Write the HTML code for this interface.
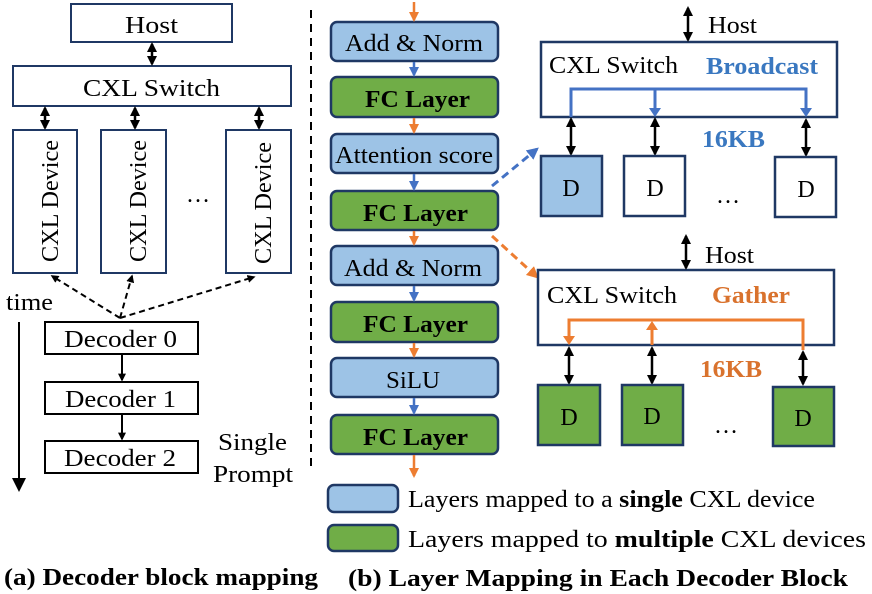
<!DOCTYPE html>
<html><head><meta charset="utf-8"><style>body{margin:0;background:#fff}svg{display:block}text{font-family:"Liberation Serif",serif;fill:#000}</style></head><body>
<svg width="872" height="594" viewBox="0 0 872 594" xmlns="http://www.w3.org/2000/svg">
<defs>
<marker id="k" viewBox="0 0 10 10" refX="8" refY="5" markerWidth="4" markerHeight="4" orient="auto-start-reverse"><path d="M0,0L10,5L0,10z" fill="#000"/></marker>
<marker id="o" viewBox="0 0 10 10" refX="8" refY="5" markerWidth="4" markerHeight="4" orient="auto-start-reverse"><path d="M0,0L10,5L0,10z" fill="#ed7d31"/></marker>
<marker id="b" viewBox="0 0 10 10" refX="8" refY="5" markerWidth="4" markerHeight="4" orient="auto-start-reverse"><path d="M0,0L10,5L0,10z" fill="#4472c4"/></marker>
</defs>
<g fill="#fff" stroke="#1f3864" stroke-width="2">
<rect x="71" y="4" width="161" height="38"/>
<rect x="13" y="66" width="278" height="40"/>
<rect x="13" y="130" width="64" height="143"/>
<rect x="101" y="130" width="65" height="143"/>
<rect x="226" y="130" width="65" height="143"/>
</g>
<g fill="#fff" stroke="#000" stroke-width="2">
<rect x="45" y="322" width="153" height="32"/>
<rect x="45" y="382" width="153" height="32"/>
<rect x="45" y="441" width="153" height="32"/>
</g>
<g font-size="24">
<text x="125" y="33" textLength="53" lengthAdjust="spacingAndGlyphs">Host</text>
<text x="83" y="96" textLength="137" lengthAdjust="spacingAndGlyphs">CXL Switch</text>
<text transform="translate(58,262) rotate(-90)" textLength="122" lengthAdjust="spacingAndGlyphs">CXL Device</text>
<text transform="translate(146,262) rotate(-90)" textLength="122" lengthAdjust="spacingAndGlyphs">CXL Device</text>
<text transform="translate(271,264) rotate(-90)" textLength="122" lengthAdjust="spacingAndGlyphs">CXL Device</text>
<text x="186" y="202">…</text>
<text x="6" y="310" textLength="47" lengthAdjust="spacingAndGlyphs">time</text>
<text x="64" y="347" textLength="113" lengthAdjust="spacingAndGlyphs">Decoder 0</text>
<text x="65" y="407" textLength="111" lengthAdjust="spacingAndGlyphs">Decoder 1</text>
<text x="64" y="466" textLength="112" lengthAdjust="spacingAndGlyphs">Decoder 2</text>
<text x="218" y="450" textLength="69" lengthAdjust="spacingAndGlyphs">Single</text>
<text x="213" y="482" textLength="80" lengthAdjust="spacingAndGlyphs">Prompt</text>
</g>
<g stroke="#000" stroke-width="2.5" marker-start="url(#k)" marker-end="url(#k)">
<line x1="152" y1="44" x2="152" y2="64"/>
<line x1="45" y1="108" x2="45" y2="128"/>
<line x1="135" y1="108" x2="135" y2="128"/>
<line x1="259" y1="108" x2="259" y2="128"/>
</g>
<g stroke="#000" stroke-width="2" stroke-dasharray="6,4" marker-end="url(#k)">
<line x1="120" y1="318" x2="52" y2="276"/>
<line x1="120" y1="318" x2="132" y2="276"/>
<line x1="120" y1="318" x2="254" y2="277"/>
</g>
<line x1="19" y1="322" x2="19" y2="480" stroke="#000" stroke-width="2"/>
<path d="M12,478L26,478L19,492z" fill="#000"/>
<g stroke="#000" stroke-width="2" marker-end="url(#k)">
<line x1="122" y1="355" x2="122" y2="380"/>
<line x1="122" y1="415" x2="122" y2="439"/>
</g>
<text x="4" y="585" font-size="24" font-weight="bold" textLength="314" lengthAdjust="spacingAndGlyphs">(a) Decoder block mapping</text>
<line x1="311" y1="10" x2="311" y2="470" stroke="#000" stroke-width="2" stroke-dasharray="8,6"/>

<g stroke="#1f3864" stroke-width="2.5">
<rect x="331" y="22" width="167" height="39" rx="6" fill="#9dc3e6"/>
<rect x="331" y="77" width="167" height="40" rx="6" fill="#70ad47"/>
<rect x="331" y="134" width="167" height="39" rx="6" fill="#9dc3e6"/>
<rect x="331" y="191" width="167" height="39" rx="6" fill="#70ad47"/>
<rect x="331" y="246" width="167" height="39" rx="6" fill="#9dc3e6"/>
<rect x="331" y="302" width="167" height="40" rx="6" fill="#70ad47"/>
<rect x="331" y="358" width="167" height="39" rx="6" fill="#9dc3e6"/>
<rect x="331" y="415" width="167" height="39" rx="6" fill="#70ad47"/>
<rect x="328" y="485" width="70" height="27" rx="6" fill="#9dc3e6"/>
<rect x="328" y="525" width="70" height="26" rx="6" fill="#70ad47"/>
</g>
<g font-size="24">
<text x="345" y="51" textLength="138" lengthAdjust="spacingAndGlyphs">Add &amp; Norm</text>
<text x="365" y="107" font-weight="bold" textLength="105" lengthAdjust="spacingAndGlyphs">FC Layer</text>
<text x="335" y="163" textLength="158" lengthAdjust="spacingAndGlyphs">Attention score</text>
<text x="363" y="221" font-weight="bold" textLength="105" lengthAdjust="spacingAndGlyphs">FC Layer</text>
<text x="344" y="276" textLength="138" lengthAdjust="spacingAndGlyphs">Add &amp; Norm</text>
<text x="363" y="332" font-weight="bold" textLength="105" lengthAdjust="spacingAndGlyphs">FC Layer</text>
<text x="386" y="388" textLength="54" lengthAdjust="spacingAndGlyphs">SiLU</text>
<text x="363" y="445" font-weight="bold" textLength="105" lengthAdjust="spacingAndGlyphs">FC Layer</text>
<text x="408" y="507" textLength="407" lengthAdjust="spacingAndGlyphs">Layers mapped to a <tspan font-weight="bold">single</tspan> CXL device</text>
<text x="408" y="547" textLength="458" lengthAdjust="spacingAndGlyphs">Layers mapped to <tspan font-weight="bold">multiple</tspan> CXL devices</text>
<text x="348" y="586" font-weight="bold" textLength="500" lengthAdjust="spacingAndGlyphs">(b) Layer Mapping in Each Decoder Block</text>
</g>
<g stroke-width="2.5">
<line x1="414" y1="2" x2="414" y2="20" stroke="#ed7d31" marker-end="url(#o)"/>
<line x1="414" y1="62" x2="414" y2="75" stroke="#4472c4" marker-end="url(#b)"/>
<line x1="414" y1="118" x2="414" y2="132" stroke="#ed7d31" marker-end="url(#o)"/>
<line x1="414" y1="174" x2="414" y2="189" stroke="#4472c4" marker-end="url(#b)"/>
<line x1="414" y1="231" x2="414" y2="244" stroke="#ed7d31" marker-end="url(#o)"/>
<line x1="414" y1="286" x2="414" y2="300" stroke="#4472c4" marker-end="url(#b)"/>
<line x1="414" y1="343" x2="414" y2="356" stroke="#ed7d31" marker-end="url(#o)"/>
<line x1="414" y1="398" x2="414" y2="413" stroke="#4472c4" marker-end="url(#b)"/>
<line x1="414" y1="455" x2="414" y2="476" stroke="#ed7d31" marker-end="url(#o)"/>
</g>

<line x1="492" y1="186" x2="537" y2="149" stroke="#4472c4" stroke-width="3" stroke-dasharray="8,5" marker-end="url(#b)"/>
<line x1="492" y1="236" x2="537" y2="277" stroke="#ed7d31" stroke-width="3" stroke-dasharray="8,5" marker-end="url(#o)"/>

<rect x="541" y="42" width="296" height="75" fill="#fff" stroke="#1f3864" stroke-width="2.5"/>
<path d="M571,117V89H806V110M655,89V110" fill="none" stroke="#4472c4" stroke-width="3"/>
<path d="M649,108L661,108L655,117zM800,108L812,108L806,117z" fill="#4472c4"/>
<g stroke="#000" stroke-width="2.5" marker-start="url(#k)" marker-end="url(#k)">
<line x1="688" y1="8" x2="688" y2="40"/>
<line x1="571" y1="119" x2="571" y2="154"/>
<line x1="655" y1="119" x2="655" y2="154"/>
<line x1="806" y1="120" x2="806" y2="155"/>
</g>
<g stroke="#1f3864" stroke-width="2.5">
<rect x="541" y="156" width="61" height="60" fill="#9dc3e6"/>
<rect x="624" y="156" width="61" height="60" fill="#fff"/>
<rect x="775" y="157" width="61" height="60" fill="#fff"/>
</g>

<rect x="538" y="270" width="296" height="75" fill="#fff" stroke="#1f3864" stroke-width="2.5"/>
<path d="M569,338V320H803V350M652,345V328" fill="none" stroke="#ed7d31" stroke-width="3"/>
<path d="M563,336L575,336L569,345zM646,330L658,330L652,321z" fill="#ed7d31"/>
<g stroke="#000" stroke-width="2.5" marker-start="url(#k)" marker-end="url(#k)">
<line x1="686" y1="236" x2="686" y2="268"/>
<line x1="569" y1="348" x2="569" y2="383"/>
<line x1="652" y1="348" x2="652" y2="383"/>
<line x1="803" y1="352" x2="803" y2="384"/>
</g>
<g stroke="#1f3864" stroke-width="2.5" fill="#70ad47">
<rect x="538" y="385" width="62" height="60"/>
<rect x="622" y="385" width="61" height="60"/>
<rect x="773" y="387" width="61" height="59"/>
</g>

<g font-size="24">
<text x="708" y="33" textLength="49" lengthAdjust="spacingAndGlyphs">Host</text>
<text x="549" y="73" textLength="129" lengthAdjust="spacingAndGlyphs">CXL Switch</text>
<text x="706" y="74" font-weight="bold" style="fill:#3a78c0" textLength="112" lengthAdjust="spacingAndGlyphs">Broadcast</text>
<text x="702" y="147" font-weight="bold" style="fill:#3a78c0" textLength="63" lengthAdjust="spacingAndGlyphs">16KB</text>
<text x="705" y="263" textLength="49" lengthAdjust="spacingAndGlyphs">Host</text>
<text x="547" y="303" textLength="130" lengthAdjust="spacingAndGlyphs">CXL Switch</text>
<text x="712" y="303" font-weight="bold" style="fill:#d9722d" textLength="78" lengthAdjust="spacingAndGlyphs">Gather</text>
<text x="700" y="377" font-weight="bold" style="fill:#d9722d" textLength="62" lengthAdjust="spacingAndGlyphs">16KB</text>
</g>
<g font-size="24" text-anchor="middle">
<text x="571" y="196">D</text><text x="655" y="196">D</text><text x="806" y="197">D</text>
<text x="728" y="203">…</text>
<text x="569" y="425">D</text><text x="652" y="424">D</text><text x="803" y="426">D</text>
<text x="726" y="433">…</text>
</g>
</svg>
</body></html>
